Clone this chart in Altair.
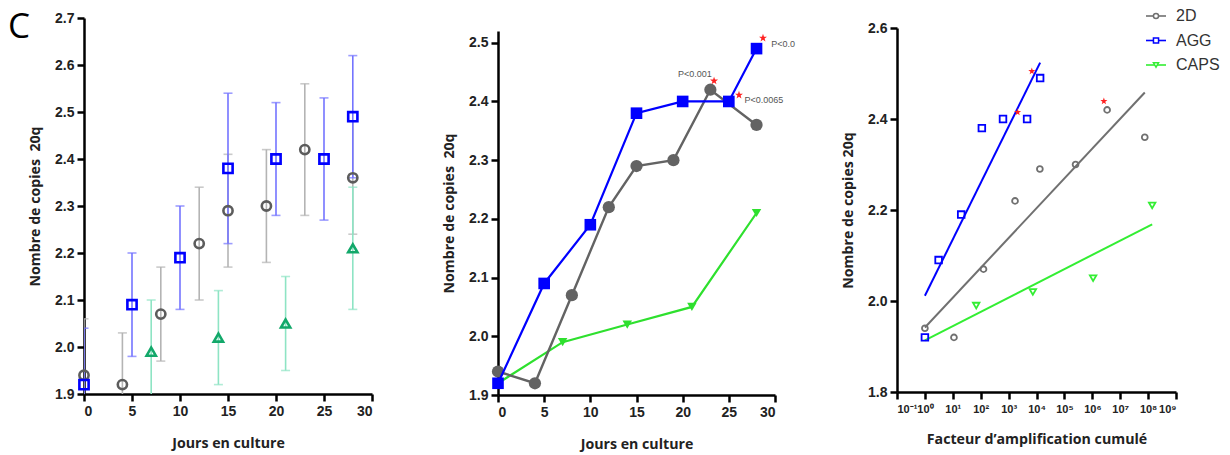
import altair as alt
import pandas as pd

# ---------------- data ----------------
series_names = ["2D", "AGG", "CAPS"]

days_2d = [0, 4, 8, 12, 15, 19, 23, 28]
copies_2d = [1.94, 1.92, 2.07, 2.22, 2.29, 2.30, 2.42, 2.36]
sem_2d = [0.12, 0.11, 0.10, 0.12, 0.12, 0.12, 0.14, 0.12]
amp_2d = [1, 11, 126, 1700, 13200, 251000, 3.4e6, 7.6e7]

days_agg = [0, 5, 10, 15, 20, 25, 28]
copies_agg = [1.92, 2.09, 2.19, 2.38, 2.40, 2.40, 2.49]
sem_agg = [0.12, 0.11, 0.11, 0.16, 0.12, 0.13, 0.13]
amp_agg = [1, 3.1, 20, 110, 630, 4600, 13500]

days_caps = [0, 7, 14, 21, 28]
copies_caps = [1.92, 1.99, 2.02, 2.05, 2.21]
sem_caps = [0.0, 0.11, 0.10, 0.10, 0.13]
amp_caps = [1, 69, 7400, 1.07e6, 1.4e8]

# p-value annotations (middle panel) and stars
pval_text = ["P<0.001", "P<0.0065", "P<0.0"]
pval_day = [19.5, 26.7, 29.6]
pval_copies = [2.446, 2.403, 2.498]
star_day = [23.4, 26.1, 28.7]
star_copies = [2.435, 2.411, 2.508]
# stars (right panel)
star_amp = [6800, 2100, 2.6e6]
star_copies3 = [2.505, 2.415, 2.439]

y_title = "Nombre de copies\u00a0 20q"

# ---------------- tables ----------------
rows = []
for name, d, v, s, a in [
    ("2D", days_2d, copies_2d, sem_2d, amp_2d),
    ("AGG", days_agg, copies_agg, sem_agg, amp_agg),
    ("CAPS", days_caps, copies_caps, sem_caps, amp_caps),
]:
    for i in range(len(d)):
        rows.append(dict(series=name, day=d[i], val=v[i], lo=v[i] - s[i], hi=v[i] + s[i], amp=a[i]))
df = pd.DataFrame(rows)
df_pv = pd.DataFrame(dict(day=pval_day, val=pval_copies, txt=pval_text))
df_star = pd.DataFrame(dict(day=star_day, val=star_copies))
df_star3 = pd.DataFrame(dict(amp=star_amp, val=star_copies3))
df_one = pd.DataFrame(dict(t=["C"]))

STAR = ("M0,-1L0.235,-0.324L0.951,-0.309L0.38,0.124L0.588,0.809L0,0.4"
        "L-0.588,0.809L-0.38,0.124L-0.951,-0.309L-0.235,-0.324Z")

TITLE_FONT = "Open Sans"
LABEL_FONT = "Liberation Sans"

# ---------------- panel A ----------------
xA_scale = alt.Scale(domain=[0, 30], nice=False)
yA_scale = alt.Scale(domain=[1.9, 2.7], nice=False, zero=False)
xA_axis = alt.Axis(values=[0, 5, 10, 15, 20, 25, 30], title="Jours en culture", titlePadding=18)
yA_axis = alt.Axis(values=[1.9, 2.0, 2.1, 2.2, 2.3, 2.4, 2.5, 2.6, 2.7], format=".1f",
                   title=y_title, titlePadding=12)


def xa(f="day"):
    return alt.X(f"{f}:Q", scale=xA_scale, axis=xA_axis)


def ya(f):
    return alt.Y(f"{f}:Q", scale=yA_scale, axis=yA_axis)


styleA = {
    "2D": dict(err="#b4b4b4", mk="#5c5c5c", shape="circle"),
    "AGG": dict(err="#7474ff", mk="#0000ff", shape="square"),
    "CAPS": dict(err="#8ee4c4", mk="#12a86a", shape="triangle-up"),
}
layersA = []
for name in series_names:
    st = styleA[name]
    base = alt.Chart(df).transform_filter(f"datum.series == '{name}' && datum.hi > datum.val")
    layersA.append(base.mark_rule(color=st["err"], strokeWidth=1.6, clip=True)
                   .encode(x=xa(), y=ya("lo"), y2="hi:Q"))
    layersA.append(base.mark_tick(color=st["err"], orient="horizontal", size=9, thickness=1.6, clip=True)
                   .encode(x=xa(), y=ya("lo")))
    layersA.append(base.mark_tick(color=st["err"], orient="horizontal", size=9, thickness=1.6, clip=True)
                   .encode(x=xa(), y=ya("hi")))
for name in series_names:
    st = styleA[name]
    base = alt.Chart(df).transform_filter(f"datum.series == '{name}' && datum.hi > datum.val")
    layersA.append(base.mark_point(shape=st["shape"], filled=False, color=st["mk"], strokeWidth=2.6,
                                   size=85, opacity=1).encode(x=xa(), y=ya("val")))
layersA.append(alt.Chart(df_one).mark_text(align="left", baseline="top", fontSize=35, font=TITLE_FONT,
                                            color="black")
               .encode(text="t:N", x=alt.value(-76), y=alt.value(-8)))
panelA = alt.layer(*layersA).properties(width=288, height=376)

# ---------------- panel B ----------------
xB_scale = alt.Scale(domain=[0, 30], nice=False)
yB_scale = alt.Scale(domain=[1.9, 2.52], nice=False, zero=False)
xB_axis = alt.Axis(values=[0, 5, 10, 15, 20, 25, 30], title="Jours en culture", titlePadding=18)
yB_axis = alt.Axis(values=[1.9, 2.0, 2.1, 2.2, 2.3, 2.4, 2.5], format=".1f",
                   title=y_title, titlePadding=12)


def xb():
    return alt.X("day:Q", scale=xB_scale, axis=xB_axis)


def yb():
    return alt.Y("val:Q", scale=yB_scale, axis=yB_axis)


styleB = {
    "2D": dict(c="#636363", shape="circle", size=150, w=2.4),
    "AGG": dict(c="#0000ff", shape="square", size=135, w=2.2),
    "CAPS": dict(c="#2ee02e", shape="triangle-down", size=90, w=2.2),
}
layersB = []
for name in ["CAPS", "2D", "AGG"]:
    st = styleB[name]
    base = alt.Chart(df).transform_filter(f"datum.series == '{name}'")
    layersB.append(base.mark_line(color=st["c"], strokeWidth=st["w"]).encode(x=xb(), y=yb()))
    layersB.append(base.mark_point(shape=st["shape"], filled=True, color=st["c"], size=st["size"],
                                   opacity=1).encode(x=xb(), y=yb()))
layersB.append(alt.Chart(df_pv).mark_text(align="left", baseline="middle", fontSize=9, font=LABEL_FONT,
                                           color="#555555")
               .encode(x=xb(), y=yb(), text="txt:N"))
layersB.append(alt.Chart(df_star).mark_point(shape=STAR, filled=True, color="#ff2222", size=70, opacity=1)
               .encode(x=xb(), y=yb()))
panelB_plot = alt.layer(*layersB).properties(width=277, height=364)
spacerB = alt.Chart(df_one).mark_point(opacity=0).properties(width=277, height=13)
panelB = alt.vconcat(spacerB, panelB_plot, spacing=0, bounds="flush")

# ---------------- panel C ----------------
decades = [0.1, 1, 10, 100, 1e3, 1e4, 1e5, 1e6, 1e7, 1e8, 1e9]
xC_scale = alt.Scale(type="log", domain=[0.1, 1e9], nice=False)
yC_scale = alt.Scale(domain=[1.8, 2.6], nice=False, zero=False)
xC_axis = alt.Axis(
    values=decades, title="Facteur d\u2019amplification cumulé", titlePadding=18,
    labelOverlap=False, labelFontSize=11, labelPadding=4,
    labelExpr="['10\u207b\u00b9','10\u2070','10\u00b9','10\u00b2','10\u00b3','10\u2074','10\u2075',"
              "'10\u2076','10\u2077','10\u2078','10\u2079'][round(log(datum.value)/LN10)+1]",
)
yC_axis = alt.Axis(values=[1.8, 2.0, 2.2, 2.4, 2.6], format=".1f", title="Nombre de copies 20q",
                   titlePadding=12)


def xc():
    return alt.X("amp:Q", scale=xC_scale, axis=xC_axis)


def yc():
    return alt.Y("val:Q", scale=yC_scale, axis=yC_axis)


colorsC = {"2D": "#707070", "AGG": "#0000ff", "CAPS": "#33ee33"}
shapesC = {"2D": "circle", "AGG": "square", "CAPS": "triangle-down"}
sizesC = {"2D": 34, "AGG": 44, "CAPS": 42}

layersC = []
layersC.append(
    alt.Chart(df)
    .transform_calculate(lx="log(datum.amp)/LN10")
    .transform_regression("lx", "val", groupby=["series"])
    .transform_calculate(amp="pow(10, datum.lx)")
    .mark_line(strokeWidth=2)
    .encode(x=xc(), y=yc(),
            stroke=alt.Stroke("series:N",
                              scale=alt.Scale(domain=series_names, range=[colorsC[s] for s in series_names]),
                              legend=None))
)
for name in ["CAPS", "2D", "AGG"]:
    base = alt.Chart(df).transform_filter(
        f"datum.series == '{name}' && !(datum.series == 'CAPS' && datum.amp == 1)")
    layersC.append(base.mark_point(shape=shapesC[name], filled=False, color=colorsC[name], strokeWidth=1.8,
                                   size=sizesC[name], opacity=1).encode(x=xc(), y=yc()))
layersC.append(alt.Chart(df_star3).mark_point(shape=STAR, filled=True, color="#ff2222", size=55, opacity=1)
               .encode(x=xc(), y=yc()))

# legend (drawn beside the plot)
for i, name in enumerate(series_names):
    ly = -12 + 24.5 * i
    col = colorsC[name]
    layersC.append(alt.Chart(df_one).mark_rule(color=col, strokeWidth=1.6)
                   .encode(x=alt.value(249), x2=alt.value(269), y=alt.value(ly)))
    layersC.append(alt.Chart(df_one).mark_point(shape=shapesC[name], filled=True, fill="white", color=col,
                                                stroke=col, strokeWidth=1.5, size=26, opacity=1)
                   .encode(x=alt.value(259), y=alt.value(ly)))
    layersC.append(alt.Chart(df_one).mark_text(text=name, align="left", baseline="middle", fontSize=16,
                                                font=LABEL_FONT, color="#333333")
                   .encode(x=alt.value(279), y=alt.value(ly)))

panelC_plot = alt.layer(*layersC).properties(width=279, height=364)
spacerC = alt.Chart(df_one).mark_point(opacity=0).properties(width=279, height=10)
panelC = alt.vconcat(spacerC, panelC_plot, spacing=0, bounds="flush")

chart = (
    alt.hconcat(alt.hconcat(panelA, panelB, spacing=68), panelC, spacing=45)
    .properties(padding=0)
    .configure_view(stroke=None)
    .configure_axis(
        grid=False, domainColor="black", domainWidth=2.5, tickColor="black", tickWidth=2.5, tickSize=7,
        labelFont=LABEL_FONT, labelFontWeight="bold", labelFontSize=14, labelColor="#222222",
        labelPadding=3, titleFont=TITLE_FONT, titleFontWeight="bold", titleFontSize=14.2, titleColor="#222222",
    )
)

chart.save("out.html", embed_options={"renderer": "svg", "actions": False})
